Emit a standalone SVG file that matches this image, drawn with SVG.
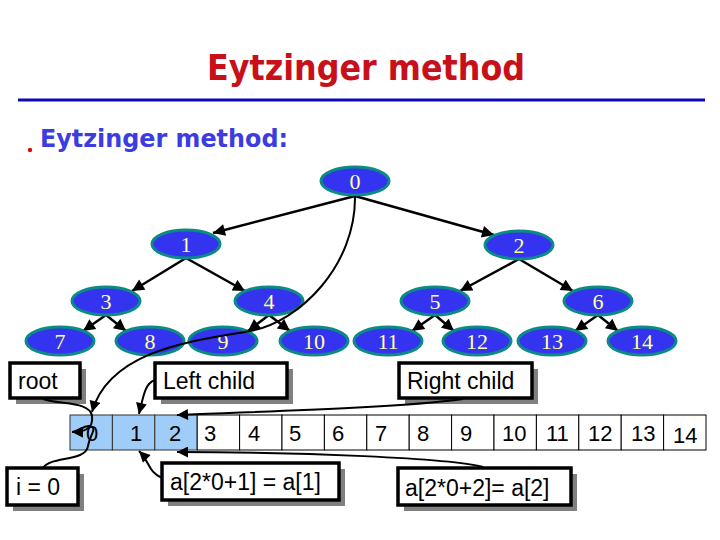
<svg xmlns="http://www.w3.org/2000/svg" width="720" height="540" viewBox="0 0 720 540">
<style>
.node ellipse{fill:#3434f0;stroke:#0c8a84;stroke-width:3}
.node text{fill:#ffffa0;font-family:"Liberation Serif",serif;font-size:22px;text-anchor:middle}
.edge{fill:none;stroke:#000;stroke-width:2.5}
.ptr{fill:none;stroke:#000;stroke-width:2}
.cell{fill:#fff;stroke:#000;stroke-width:1}
.cellb{fill:#a0cdf8;stroke:#333;stroke-width:1}
.num{font-family:"Liberation Sans",Arial,sans-serif;font-size:22px;fill:#000}
.box{fill:#fff;stroke:#000;stroke-width:3.5}
.shadow{fill:#808080}
.lbl{font-family:"Liberation Sans",Arial,sans-serif;font-size:23px;fill:#000}
</style>
<defs>
<marker id="ah" viewBox="0 0 10 10" refX="10" refY="5" markerWidth="12" markerHeight="11" markerUnits="userSpaceOnUse" orient="auto">
<path d="M0,0 L10,5 L0,10 z" fill="#000"/>
</marker>
<marker id="ahb" viewBox="0 0 10 10" refX="10" refY="5" markerWidth="14" markerHeight="12" markerUnits="userSpaceOnUse" orient="auto">
<path d="M0,0 L10,5 L0,10 z" fill="#000"/>
</marker>
</defs>
<rect width="720" height="540" fill="#fff"/>
<text x="366" y="80" text-anchor="middle" font-family="'DejaVu Sans',sans-serif" font-weight="bold" font-size="36" fill="#c8101a" textLength="318" lengthAdjust="spacingAndGlyphs">Eytzinger method</text>
<line x1="18" y1="100" x2="705" y2="100" stroke="#0a0ab4" stroke-width="3"/>
<circle cx="30" cy="150" r="2.2" fill="#d01010"/>
<text x="40" y="147" font-family="'DejaVu Sans',sans-serif" font-weight="bold" font-size="24" fill="#3c3ce0" textLength="248" lengthAdjust="spacingAndGlyphs">Eytzinger method:</text>
<g id="connectors">
<path class="edge" d="M355,196 L213,233" marker-end="url(#ahb)"/>
<path class="edge" d="M355,196 L494,235" marker-end="url(#ahb)"/>
<path class="edge" d="M186,258 L132,291" marker-end="url(#ahb)"/>
<path class="edge" d="M186,258 L245,291" marker-end="url(#ahb)"/>
<path class="edge" d="M519,259 L460,291" marker-end="url(#ahb)"/>
<path class="edge" d="M519,259 L573,291" marker-end="url(#ahb)"/>
<path class="edge" d="M106,315 L83,331" marker-end="url(#ahb)"/>
<path class="edge" d="M106,315 L126,331" marker-end="url(#ahb)"/>
<path class="edge" d="M269,315 L248,331" marker-end="url(#ahb)"/>
<path class="edge" d="M269,315 L290,331" marker-end="url(#ahb)"/>
<path class="edge" d="M435,315 L412,331" marker-end="url(#ahb)"/>
<path class="edge" d="M435,315 L454,331" marker-end="url(#ahb)"/>
<path class="edge" d="M598,315 L575,331" marker-end="url(#ahb)"/>
<path class="edge" d="M598,315 L618,331" marker-end="url(#ahb)"/>
</g>
<g id="n0" class="node"><ellipse cx="355" cy="181" rx="34" ry="14"/><text x="355" y="189">0</text></g>
<g id="n1" class="node"><ellipse cx="186" cy="244" rx="34" ry="14"/><text x="186" y="252">1</text></g>
<g id="n2" class="node"><ellipse cx="519" cy="245" rx="34" ry="14"/><text x="519" y="253">2</text></g>
<g id="n3" class="node"><ellipse cx="106" cy="301" rx="34" ry="14"/><text x="106" y="309">3</text></g>
<g id="n4" class="node"><ellipse cx="269" cy="301" rx="34" ry="14"/><text x="269" y="309">4</text></g>
<g id="n5" class="node"><ellipse cx="435" cy="301" rx="34" ry="14"/><text x="435" y="309">5</text></g>
<g id="n6" class="node"><ellipse cx="598" cy="301" rx="34" ry="14"/><text x="598" y="309">6</text></g>
<g id="n7" class="node"><ellipse cx="60" cy="341" rx="34" ry="14"/><text x="60" y="349">7</text></g>
<g id="n8" class="node"><ellipse cx="150" cy="341" rx="34" ry="14"/><text x="150" y="349">8</text></g>
<g id="n9" class="node"><ellipse cx="223" cy="341" rx="34" ry="14"/><text x="223" y="349">9</text></g>
<g id="n10" class="node"><ellipse cx="314" cy="341" rx="34" ry="14"/><text x="314" y="349">10</text></g>
<g id="n11" class="node"><ellipse cx="388" cy="341" rx="34" ry="14"/><text x="388" y="349">11</text></g>
<g id="n12" class="node"><ellipse cx="477" cy="341" rx="34" ry="14"/><text x="477" y="349">12</text></g>
<g id="n13" class="node"><ellipse cx="552" cy="341" rx="34" ry="14"/><text x="552" y="349">13</text></g>
<g id="n14" class="node"><ellipse cx="642" cy="341" rx="34" ry="14"/><text x="642" y="349">14</text></g>
<g id="array">
<rect class="cellb" x="70" y="415" width="42.4" height="35"/>
<rect class="cellb" x="112.4" y="415" width="42.4" height="35"/>
<rect class="cellb" x="154.8" y="415" width="42.4" height="35"/>
<rect class="cell" x="197.2" y="415" width="42.4" height="35"/>
<rect class="cell" x="239.6" y="415" width="42.4" height="35"/>
<rect class="cell" x="282" y="415" width="42.4" height="35" stroke-width="2"/>
<rect class="cell" x="324.4" y="415" width="42.4" height="35"/>
<rect class="cell" x="366.8" y="415" width="42.4" height="35"/>
<rect class="cell" x="409.2" y="415" width="42.4" height="35"/>
<rect class="cell" x="451.6" y="415" width="42.4" height="35"/>
<rect class="cell" x="494" y="415" width="42.4" height="35"/>
<rect class="cell" x="536.4" y="415" width="42.4" height="35"/>
<rect class="cell" x="578.8" y="415" width="42.4" height="35"/>
<rect class="cell" x="621.2" y="415" width="42.4" height="35"/>
<rect class="cell" x="663.6" y="415" width="42.4" height="35"/>
<text class="num" x="86" y="441">0</text>
<text class="num" x="130" y="441">1</text>
<text class="num" x="169" y="441">2</text>
<text class="num" x="204" y="441">3</text>
<text class="num" x="248" y="441">4</text>
<text class="num" x="289" y="441">5</text>
<text class="num" x="332" y="441">6</text>
<text class="num" x="375" y="441">7</text>
<text class="num" x="417" y="441">8</text>
<text class="num" x="460" y="441">9</text>
<text class="num" x="502" y="441">10</text>
<text class="num" x="546" y="441">11</text>
<text class="num" x="588" y="441">12</text>
<text class="num" x="631" y="441">13</text>
<text class="num" x="673" y="443">14</text>
</g>
<g id="callout-root"><rect class="shadow" x="16" y="369" width="70" height="35"/><rect class="box" x="10" y="363" width="70" height="35"/><text class="lbl" x="18" y="389">root</text></g>
<g id="callout-left"><rect class="shadow" x="161" y="369" width="132" height="35"/><rect class="box" x="155" y="363" width="132" height="35"/><text class="lbl" x="163" y="389">Left child</text></g>
<g id="callout-right"><rect class="shadow" x="405" y="369" width="133" height="35"/><rect class="box" x="399" y="363" width="133" height="35"/><text class="lbl" x="407" y="389">Right child</text></g>
<g id="callout-i"><rect class="shadow" x="13" y="474" width="71" height="37"/><rect class="box" x="7" y="468" width="71" height="37"/><text class="lbl" x="16" y="495">i = 0</text></g>
<g id="callout-a1"><rect class="shadow" x="168" y="469" width="177" height="37"/><rect class="box" x="162" y="463" width="177" height="37"/><text class="lbl" x="170" y="490">a[2*0+1] = a[1]</text></g>
<g id="callout-a2"><rect class="shadow" x="404" y="474" width="173" height="37"/><rect class="box" x="398" y="468" width="173" height="37"/><text class="lbl" x="405" y="496">a[2*0+2]= a[2]</text></g>
<g id="pointers">
<path class="ptr" d="M355,196 C356,265 300,322 250,331 C200,340 110,348 92,412" marker-end="url(#ah)"/>
<path class="ptr" d="M43,399 C60,405 90,401 92,416 C94,430 82,432 72,432" marker-end="url(#ah)"/>
<path class="ptr" d="M43,468 C50,456 86,462 88,446 C90,434 98,428 90,426 C82,425 80,432 72,432" marker-end="url(#ah)"/>
<path class="ptr" d="M155,380 C146,383 144,392 139,414" marker-end="url(#ah)"/>
<path class="ptr" d="M162,478 C148,472 150,462 139,451" marker-end="url(#ah)"/>
<path class="ptr" d="M463,399 C400,408 250,412 177,415" marker-end="url(#ah)"/>
<path class="ptr" d="M483,467 C450,458 300,452 177,452" marker-end="url(#ah)"/>
</g>
</svg>
